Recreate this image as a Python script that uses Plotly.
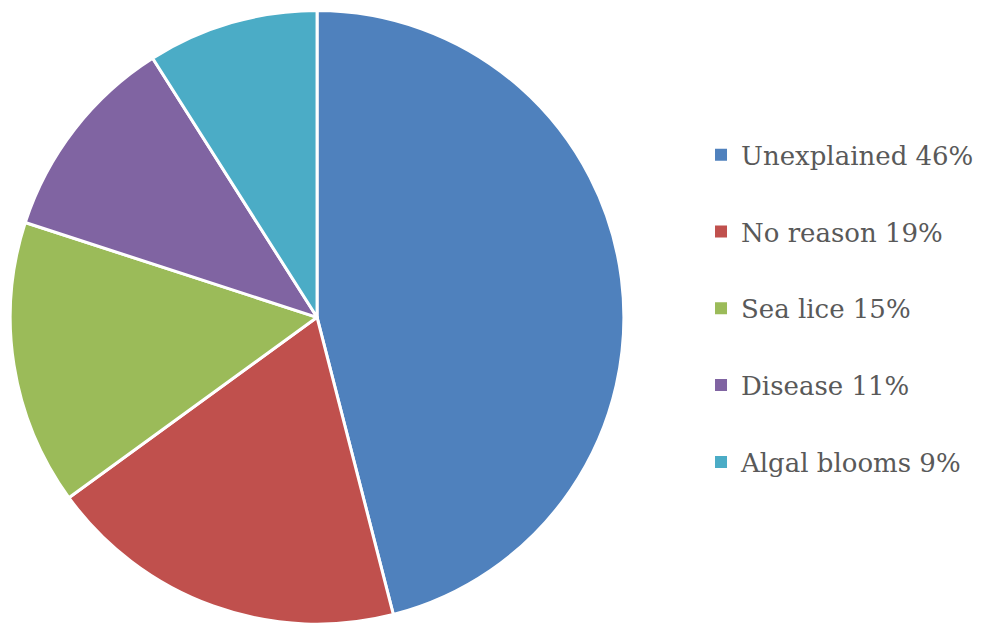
import plotly.graph_objects as go

categories = ["Unexplained", "No reason", "Sea lice", "Disease", "Algal blooms"]
values = [46, 19, 15, 11, 9]
colors = ["#4F81BD", "#C0504D", "#9BBB59", "#8064A2", "#4BACC6"]

legend_labels = [f"{c} {v}%" for c, v in zip(categories, values)]

fig = go.Figure()
fig.add_trace(go.Pie(
    labels=categories,
    values=values,
    sort=False,
    direction="clockwise",
    rotation=0,
    marker=dict(colors=colors, line=dict(color="white", width=3)),
    textinfo="none",
    hoverinfo="label+percent",
    showlegend=False,
    domain=dict(x=[0.0021, 0.6267], y=[0.011, 0.996]),
))

for i, (lab, col) in enumerate(zip(legend_labels, colors)):
    fig.add_trace(go.Scatter(
        x=[None], y=[None], mode="markers",
        marker=dict(symbol="square", size=12, color=col),
        name=lab, legendgroup=f"g{i}", showlegend=True,
    ))

fig.update_layout(
    width=983, height=623,
    margin=dict(l=0, r=0, t=0, b=0),
    paper_bgcolor="white", plot_bgcolor="white",
    xaxis=dict(visible=False), yaxis=dict(visible=False),
    legend=dict(
        x=0.705, y=0.518, xanchor="left", yanchor="middle",
        font=dict(family="DejaVu Serif", size=26, color="#595959"),
        tracegroupgap=40,
        bgcolor="rgba(0,0,0,0)",
    ),
)

fig.write_html("out.html")
